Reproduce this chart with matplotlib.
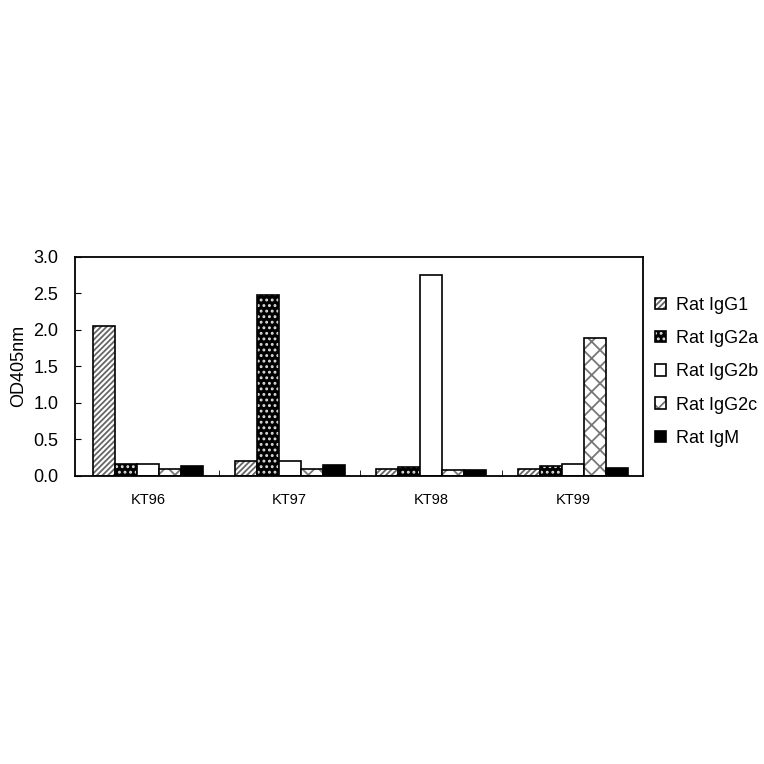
import matplotlib.pyplot as plt
import matplotlib.patches as mpatches
import numpy as np

samples = ["KT96", "KT97", "KT98", "KT99"]
isotypes = ["Rat IgG1", "Rat IgG2a", "Rat IgG2b", "Rat IgG2c", "Rat IgM"]
igg1 = [2.05, 0.21, 0.09, 0.09]
igg2a = [0.16, 2.47, 0.12, 0.14]
igg2b = [0.16, 0.20, 2.75, 0.16]
igg2c = [0.10, 0.10, 0.08, 1.89]
igm = [0.13, 0.15, 0.08, 0.11]
series = [igg1, igg2a, igg2b, igg2c, igm]

plt.rcParams['font.family'] = ['Liberation Sans', 'DejaVu Sans']
plt.rcParams['hatch.linewidth'] = 1.3

fig = plt.figure(figsize=(7.64, 7.64), dpi=100)
ax = fig.add_axes([0.098, 0.377, 0.743, 0.287])

x = np.arange(len(samples))
w = 0.155
offsets = (np.arange(5) - 2) * w

# (facecolor, hatch, hatch colour)
styles = [("white", "//////", "#666666"),
          ("black", "...", "#dddddd"),
          ("white", "", "black"),
          ("white", "xx", "#777777"),
          ("black", "", "black")]

handles = []
for vals, off, (fc, hatch, hc), name in zip(series, offsets, styles, isotypes):
    if hatch:
        ax.bar(x + off, vals, w, color=fc, edgecolor=hc, hatch=hatch, linewidth=0)
        ax.bar(x + off, vals, w, fill=False, edgecolor="black", linewidth=1.2)
        h = (mpatches.Patch(facecolor=fc, edgecolor=hc, hatch=hatch, linewidth=0),
             mpatches.Patch(fill=False, edgecolor="black", linewidth=1.2))
    else:
        ax.bar(x + off, vals, w, color=fc, edgecolor="black", linewidth=1.2)
        h = mpatches.Patch(facecolor=fc, edgecolor="black", linewidth=1.2)
    handles.append(h)

ax.set_xlim(-0.515, 3.49)
ax.set_ylim(0, 3.0)
ticks = np.arange(0, 3.01, 0.5)
ax.set_yticks(ticks)
ax.set_yticklabels([f"{v:.1f}" for v in ticks], fontsize=13)
ax.set_xticks(x)
ax.set_xticklabels(samples, fontsize=10.5)
ax.set_xticks([0.5, 1.5, 2.5], minor=True)
ax.tick_params(axis="x", which="major", length=0, pad=12)
ax.tick_params(axis="x", which="minor", direction="in", length=4)
ax.tick_params(axis="y", direction="in", length=4, pad=12)
ax.set_ylabel("OD405nm", fontsize=13, labelpad=4)
for s in ax.spines.values():
    s.set_linewidth(1.3)

ax.legend(handles=handles, labels=isotypes, loc="center left", bbox_to_anchor=(0.993, 0.475),
          frameon=False, fontsize=13, handlelength=0.6, handleheight=0.6,
          labelspacing=0.9, handletextpad=0.6)

fig.savefig("out.png", dpi=100)
